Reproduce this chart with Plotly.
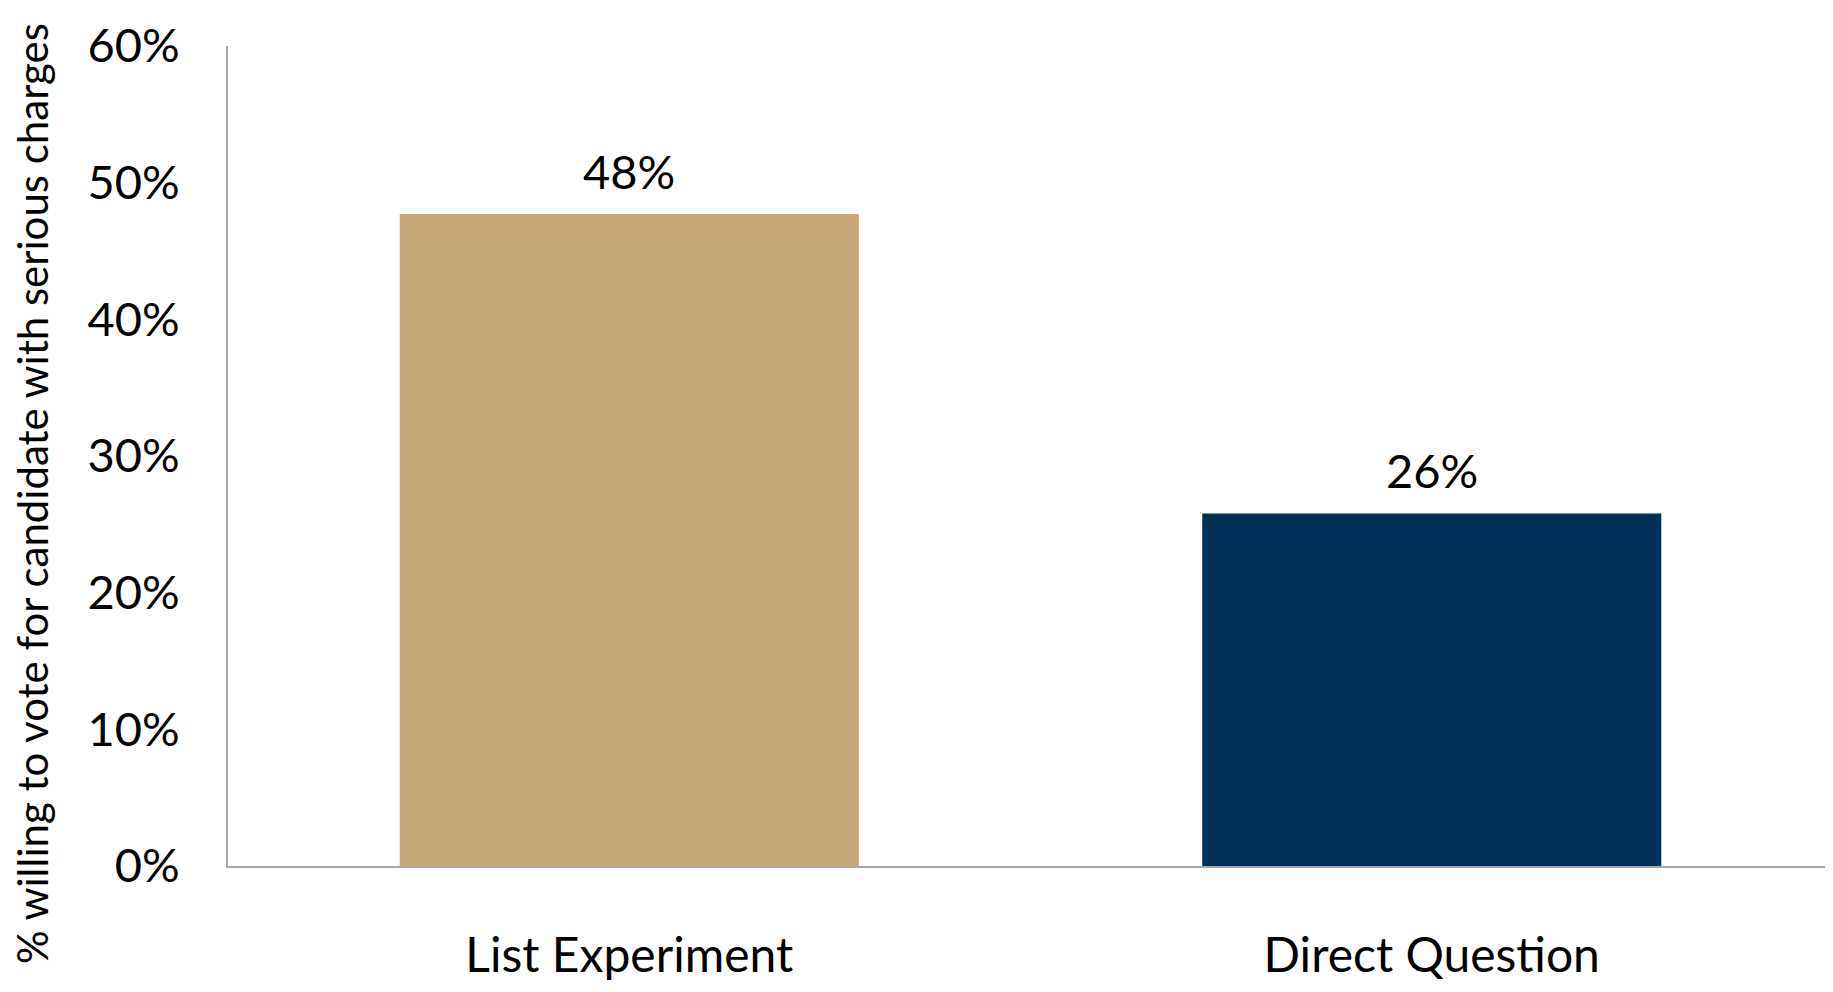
import plotly.graph_objects as go

categories = ["List Experiment", "Direct Question"]
values = [0.477, 0.258]
value_labels = ["48%", "26%"]
colors = ["#C6A677", "#003058"]
y_ticks = [0, 0.1, 0.2, 0.3, 0.4, 0.5, 0.6]
y_tick_labels = ["0%", "10%", "20%", "30%", "40%", "50%", "60%"]
y_title = "% willing to vote for candidate with serious charges"

FONT = "Lato"

fig = go.Figure()
fig.add_trace(go.Bar(
    x=categories, y=values, marker_color=colors, marker_line_width=0,
    width=0.572, hoverinfo="skip"))

for c, v, t in zip(categories, values, value_labels):
    fig.add_annotation(x=c, y=v, text=t, showarrow=False, yanchor="bottom",
                       yshift=13, font=dict(family=FONT, size=47, color="#000"))

fig.add_annotation(xref="paper", yref="paper", x=0, y=0.5, text=y_title,
                   textangle=-90, showarrow=False, xanchor="center", yanchor="middle",
                   xshift=-196, yshift=-38, borderpad=0,
                   font=dict(family=FONT, size=42, color="#000"))

fig.update_layout(
    width=1833, height=992,
    margin=dict(l=220, r=8, t=36, b=134),
    paper_bgcolor="white", plot_bgcolor="white",
    showlegend=False,
    font=dict(family=FONT, color="#000"),
    xaxis=dict(
        range=[-0.5, 1.5], showgrid=False, zeroline=False,
        showline=True, linecolor="#A6A6A6", linewidth=2,
        ticks="outside", ticklen=46, tickcolor="rgba(0,0,0,0)",
        tickfont=dict(family=FONT, size=48, color="#000"),
    ),
    yaxis=dict(
        range=[0, 0.6], tickvals=y_ticks, ticktext=y_tick_labels,
        showgrid=False, zeroline=False,
        showline=True, linecolor="#A6A6A6", linewidth=2,
        ticks="outside", ticklen=37, tickcolor="rgba(0,0,0,0)",
        tickfont=dict(family=FONT, size=47, color="#000"),
    ),
)

fig.write_html("out.html")
